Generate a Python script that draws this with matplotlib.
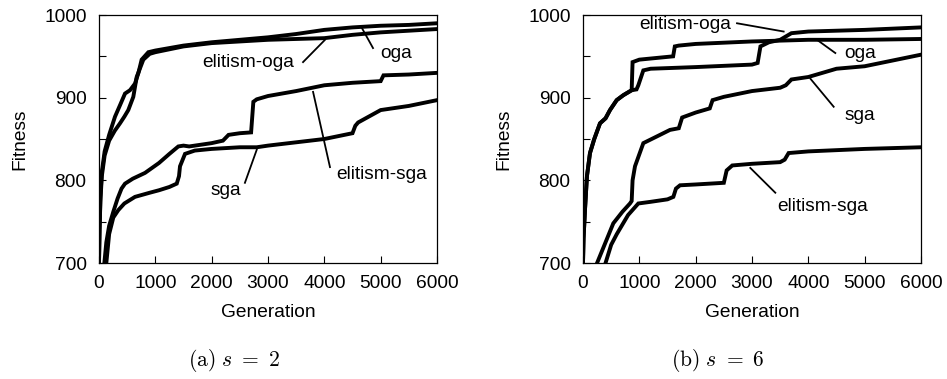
import matplotlib
matplotlib.use("Agg")
import matplotlib.pyplot as plt
from matplotlib.ticker import MultipleLocator

plt.rcParams["font.family"] = ["Liberation Sans", "DejaVu Sans"]
plt.rcParams["mathtext.fontset"] = "cm"

# ---------------------------------------------------------------
# data (generation, fitness)
# ---------------------------------------------------------------
# (a) s = 2
a_oga_gen = [0, 10, 25, 50, 100, 180, 284, 380, 462, 550, 639, 700, 757, 876, 1000, 1500, 2000, 2500, 3000, 3500, 4000, 4500, 5000, 5500, 6000]
a_oga_fit = [700, 740, 780, 810, 835, 855, 877, 892, 905, 909, 917, 930, 946, 955, 957, 963, 967, 970, 973, 977, 982, 985, 987, 988, 990]
a_eoga_gen = [0, 10, 25, 50, 100, 180, 280, 373, 450, 520, 609, 669, 787, 900, 1000, 1500, 2000, 2500, 3000, 3500, 4000, 4500, 5000, 5500, 6000]
a_eoga_fit = [700, 740, 775, 805, 830, 848, 860, 869, 877, 885, 901, 925, 946, 953, 955, 962, 966, 968, 970, 971, 972, 976, 979, 981, 983]
a_esga_gen = [95, 130, 180, 254, 330, 400, 462, 600, 817, 1065, 1250, 1408, 1500, 1600, 2000, 2200, 2300, 2500, 2700, 2740, 2800, 3000, 3500, 4000, 4500, 5000, 5050, 5500, 6000]
a_esga_fit = [700, 725, 745, 762, 778, 790, 796, 802, 809, 821, 832, 841, 842, 841, 845, 848, 855, 857, 858, 895, 898, 902, 908, 915, 918, 920, 927, 928, 930]
a_sga_gen = [130, 180, 254, 343, 450, 639, 900, 1065, 1250, 1380, 1420, 1438, 1527, 1700, 2000, 2500, 2800, 3000, 3500, 4000, 4500, 4550, 4600, 5000, 5500, 6000]
a_sga_fit = [700, 735, 755, 764, 772, 780, 785, 788, 792, 796, 805, 817, 832, 836, 838, 840, 840, 842, 846, 850, 857, 866, 870, 885, 890, 897]

# (b) s = 6
b_oga_gen = [0, 10, 35, 70, 124, 200, 302, 400, 479, 598, 716, 864, 880, 1000, 1300, 1600, 1630, 1700, 2000, 3000, 3500, 4000, 5000, 6000]
b_oga_fit = [700, 730, 764, 805, 833, 850, 869, 875, 885, 897, 903, 909, 943, 946, 948, 950, 962, 963, 965, 968, 969, 970, 970, 971]
b_eoga_gen = [0, 10, 35, 70, 124, 200, 302, 400, 479, 598, 716, 864, 950, 982, 1071, 1200, 2000, 3000, 3100, 3150, 3300, 3500, 3700, 4000, 5000, 6000]
b_eoga_fit = [700, 730, 764, 805, 833, 850, 869, 875, 885, 897, 903, 909, 910, 915, 933, 935, 937, 940, 942, 962, 967, 970, 978, 980, 982, 985]
b_sga_gen = [250, 400, 538, 700, 834, 864, 880, 923, 1071, 1308, 1544, 1700, 1760, 2000, 2250, 2300, 2500, 3000, 3500, 3600, 3700, 4000, 4500, 5000, 5500, 6000]
b_sga_fit = [700, 725, 748, 762, 772, 775, 800, 817, 845, 853, 861, 863, 876, 882, 887, 897, 901, 908, 912, 915, 922, 925, 935, 938, 945, 952]
b_esga_gen = [400, 500, 600, 800, 982, 1200, 1500, 1604, 1650, 1722, 2000, 2500, 2550, 2650, 3000, 3500, 3580, 3650, 4000, 5000, 6000]
b_esga_fit = [700, 722, 735, 758, 772, 774, 777, 780, 790, 794, 795, 797, 812, 818, 820, 822, 825, 833, 835, 838, 840]

# labels: text, text position, line start, line end
a_labels = [
    ("oga", (5272, 954), (4864, 960), (4669, 984)),
    ("elitism-oga", (2645, 942), (3622, 943), (4012, 970)),
    ("elitism-sga", (5024, 807), (4100, 816), (3800, 907)),
    ("sga", (2255, 788), (2590, 797), (2800, 837)),
]
b_labels = [
    ("elitism-oga", (1817, 988), (2734, 990), (3562, 980)),
    ("oga", (4911, 954), (4479, 954), (4154, 970)),
    ("sga", (4911, 879), (4450, 889), (4036, 923)),
    ("elitism-sga", (4260, 768), (3414, 785), (2970, 815)),
]

W, H = 947, 379
fig = plt.figure(figsize=(W / 100, H / 100), dpi=100)


def panel(left, series, labels, caption):
    ax = fig.add_axes([left / W, (H - 263) / H, 338 / W, 248 / H])
    for g, f in series:
        ax.plot(g, f, color="black", linewidth=2.8, solid_joinstyle="miter")
    for text, tpos, p0, p1 in labels:
        ax.plot([p0[0], p1[0]], [p0[1], p1[1]], color="black", linewidth=1.3)
        ax.text(tpos[0], tpos[1], text, ha="center", va="center", fontsize=13.8)
    ax.set_xlim(0, 6000)
    ax.set_ylim(700, 1000)
    ax.xaxis.set_major_locator(MultipleLocator(1000))
    ax.yaxis.set_major_locator(MultipleLocator(100))
    ax.yaxis.set_minor_locator(MultipleLocator(50))
    ax.tick_params(which="both", direction="in", length=5, width=0.8,
                   labelsize=13.8, top=False, right=False, pad=9)
    for s in ax.spines.values():
        s.set_linewidth(0.9)
    ax.set_xlabel("Generation", fontsize=13.8, labelpad=8)
    ax.set_ylabel("Fitness", fontsize=13.8, labelpad=11)
    fig.text((left + 135) / W, 1 - 361 / H, caption, ha="center", va="center", fontsize=15.5)
    return ax


panel(99, [(a_oga_gen, a_oga_fit), (a_eoga_gen, a_eoga_fit),
           (a_esga_gen, a_esga_fit), (a_sga_gen, a_sga_fit)],
      a_labels, r"$\mathrm{(a)}\ s\ =\ 2$")
panel(583, [(b_oga_gen, b_oga_fit), (b_eoga_gen, b_eoga_fit),
            (b_sga_gen, b_sga_fit), (b_esga_gen, b_esga_fit)],
      b_labels, r"$\mathrm{(b)}\ s\ =\ 6$")

fig.savefig("out.png", dpi=100)
